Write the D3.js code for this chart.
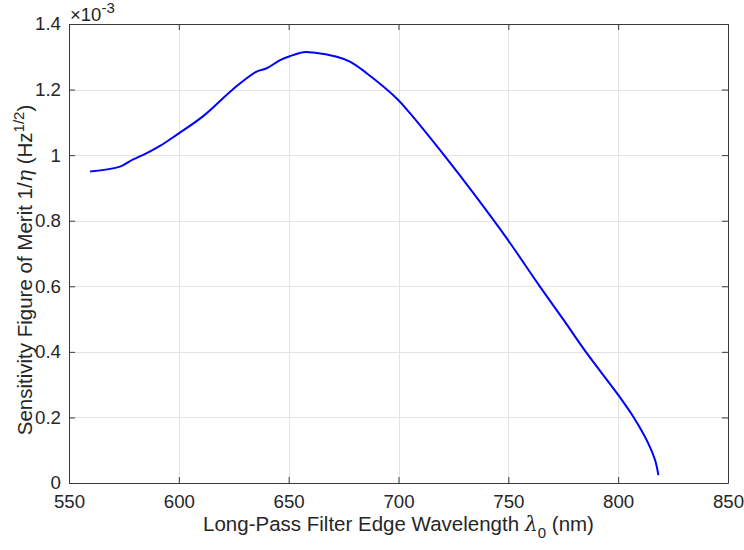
<!DOCTYPE html>
<html>
<head>
<meta charset="utf-8">
<script src="https://cdn.jsdelivr.net/npm/d3@7"></script>
<style>
  body { margin: 0; background: #fff; }
  text { font-family: "Liberation Sans", Arial, sans-serif; fill: #262626; }
</style>
</head>
<body>
<div id="chart"></div>
<script>
// wavelength (nm) and figure of merit (x1e-3)
const wavelength = [559.6, 573.2, 577.8, 585.4, 591.4, 599.0, 611.1, 624.8, 635.4, 640.0,
  646.1, 650.6, 656.7, 661.2, 671.9, 677.9, 685.5, 699.2, 705.2, 721.9,
  734.1, 749.3, 764.4, 775.0, 785.7, 800.1, 806.9, 813.7, 816.8, 818.3];
const merit = [0.950, 0.965, 0.982, 1.006, 1.028, 1.062, 1.119, 1.202, 1.255, 1.265,
  1.290, 1.302, 1.314, 1.313, 1.300, 1.285, 1.250, 1.173, 1.128, 0.990,
  0.884, 0.746, 0.599, 0.499, 0.396, 0.268, 0.202, 0.121, 0.070, 0.024];
const xTicks = [550, 600, 650, 700, 750, 800, 850];
const yTicks = [0, 0.2, 0.4, 0.6, 0.8, 1, 1.2, 1.4];

const width = 744;
const height = 550;
const marginLeft = 69;
const marginRight = 16;
const marginTop = 24;
const marginBottom = 67;
const tickLen = 6;

const svg = d3.select("#chart")
    .append("svg")
    .attr("width", width)
    .attr("height", height);

const x = d3.scaleLinear().domain([550, 850]).range([marginLeft, width - marginRight]);
const y = d3.scaleLinear().domain([0, 1.4]).range([height - marginBottom, marginTop]);

// grid
const grid = svg.append("g").attr("stroke", "#e3e3e3").attr("stroke-width", 1);
grid.selectAll(".gx").data(xTicks.slice(1, -1)).join("line")
    .attr("x1", d => Math.round(x(d)) + 0.5).attr("x2", d => Math.round(x(d)) + 0.5)
    .attr("y1", y(0)).attr("y2", y(1.4));
grid.selectAll(".gy").data(yTicks.slice(1, -1)).join("line")
    .attr("y1", d => Math.round(y(d)) + 0.5).attr("y2", d => Math.round(y(d)) + 0.5)
    .attr("x1", x(550)).attr("x2", x(850));

// axes (box style, ticks inward)
const fmt = d => d === 0 || d === 1 ? String(d) : d3.format(".1f")(d);
const axBottom = svg.append("g")
    .attr("transform", `translate(0,${y(0)})`)
    .call(d3.axisBottom(x).tickValues(xTicks).tickSizeInner(-tickLen).tickSizeOuter(0).tickPadding(12));
const axTop = svg.append("g")
    .attr("transform", `translate(0,${y(1.4)})`)
    .call(d3.axisTop(x).tickValues(xTicks).tickSizeInner(-tickLen).tickSizeOuter(0).tickFormat(""));
const axLeft = svg.append("g")
    .attr("transform", `translate(${x(550)},0)`)
    .call(d3.axisLeft(y).tickValues(yTicks).tickFormat(fmt).tickSizeInner(-tickLen).tickSizeOuter(0).tickPadding(8));
const axRight = svg.append("g")
    .attr("transform", `translate(${x(850)},0)`)
    .call(d3.axisRight(y).tickValues(yTicks).tickSizeInner(-tickLen).tickSizeOuter(0).tickFormat(""));

[axBottom, axTop, axLeft, axRight].forEach(g => {
  g.selectAll("path, line").attr("stroke", "#3a3a3a");
  g.selectAll("text").attr("font-size", 18.7).attr("fill", "#262626")
      .style("font-family", "'Liberation Sans', Arial, sans-serif");
});

// curve
const line = d3.line()
    .x((d, i) => x(wavelength[i]))
    .y(d => y(d))
    .curve(d3.curveCatmullRom.alpha(0.5));
svg.append("path")
    .datum(merit)
    .attr("fill", "none")
    .attr("stroke", "#0000ff")
    .attr("stroke-width", 2)
    .attr("d", line);

// exponent label
const ex = svg.append("text").attr("x", x(550) + 1).attr("y", 21).attr("font-size", 18.5);
ex.append("tspan").text("\u00d710");
ex.append("tspan").attr("dy", -8).attr("font-size", 15).text("-3");

// x label
const xl = svg.append("text")
    .attr("x", (x(550) + x(850)) / 2)
    .attr("y", 531)
    .attr("text-anchor", "middle")
    .attr("font-size", 20.5);
xl.append("tspan").text("Long-Pass Filter Edge Wavelength ");
xl.append("tspan").attr("font-style", "italic").attr("font-family", "'DejaVu Serif', serif").text("\u03bb");
xl.append("tspan").attr("dy", 7).attr("font-size", 15).text("0");
xl.append("tspan").attr("dy", -7).text(" (nm)");

// y label
const yl = svg.append("text")
    .attr("transform", "translate(32,270) rotate(-90)")
    .attr("text-anchor", "middle")
    .attr("font-size", 20.5);
yl.append("tspan").text("Sensitivity Figure of Merit 1/");
yl.append("tspan").attr("font-style", "italic").attr("font-family", "'DejaVu Serif', serif").text("\u03b7");
yl.append("tspan").text(" (Hz");
yl.append("tspan").attr("dy", -8).attr("font-size", 15).text("1/2");
yl.append("tspan").attr("dy", 8).text(")");
</script>
</body>
</html>
